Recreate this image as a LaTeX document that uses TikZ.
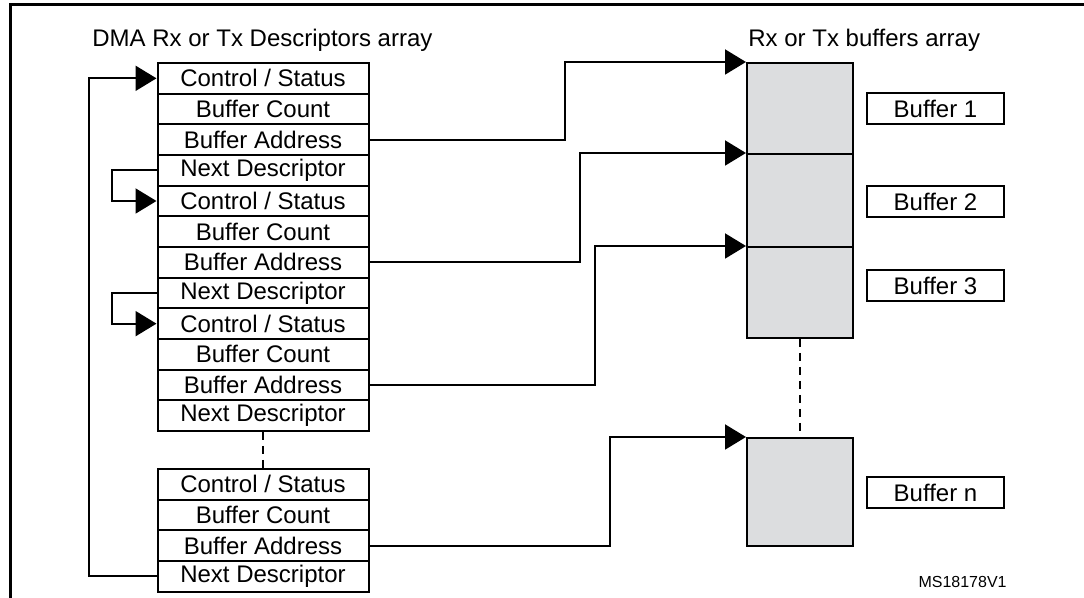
\documentclass[tikz,border=0pt]{standalone}
\usepackage{fontspec}
\setmainfont{Liberation Sans}
\usetikzlibrary{arrows.meta}
\definecolor{bufgray}{HTML}{DCDDDF}
\tikzset{
  row/.style={draw, line width=1pt, minimum width=105.5pt, minimum height=15.33pt, inner sep=0pt, font=\fontsize{12}{14}\selectfont},
  cell/.style={draw, line width=1pt, fill=bufgray, minimum width=53pt, inner sep=0pt},
  lbl/.style={draw, line width=1pt, minimum width=68.5pt, minimum height=15.5pt, inner sep=0pt, font=\fontsize{12}{14}\selectfont},
  ttl/.style={anchor=base west, inner sep=0pt, font=\fontsize{12}{14}\selectfont},
  conn/.style={line width=1pt, -{Triangle[length=10.5pt,width=12.5pt]}},
  dots/.style={line width=1pt, dash pattern=on 4pt off 3pt},
}
\begin{document}
\begin{tikzpicture}[x=0.5pt,y=-0.5pt]
\useasboundingbox (0,0) rectangle (1084,598);
% frame
\draw[line width=1.5pt] (10,598) -- (10,5) -- (1084,5);
% titles
\node[ttl] (t1) at (92,47) {DMA Rx or Tx Descriptors array};
\node[ttl] (t2) at (748,47) {Rx or Tx buffers array};
% descriptor rows block 1
\node[row] (d1)  at (263,78.33)  {Control / Status};
\node[row] (d2)  at (263,109.0)  {Buffer Count};
\node[row] (d3)  at (263,139.67) {Buffer Address};
\node[row] (d4)  at (263,170.33) {Next Descriptor};
\node[row] (d5)  at (263,201.0)  {Control / Status};
\node[row] (d6)  at (263,231.67) {Buffer Count};
\node[row] (d7)  at (263,262.33) {Buffer Address};
\node[row] (d8)  at (263,293.0)  {Next Descriptor};
\node[row] (d9)  at (263,323.67) {Control / Status};
\node[row] (d10) at (263,354.33) {Buffer Count};
\node[row] (d11) at (263,385.0)  {Buffer Address};
\node[row] (d12) at (263,415.67) {Next Descriptor};
% block 2
\node[row] (e1) at (263,484.33) {Control / Status};
\node[row] (e2) at (263,515.0)  {Buffer Count};
\node[row] (e3) at (263,545.67) {Buffer Address};
\node[row] (e4) at (263,576.33) {Next Descriptor};
% buffer cells
\node[cell, minimum height=45.5pt] (b1) at (800,108.5) {};
\node[cell, minimum height=46.5pt] (b2) at (800,200.5) {};
\node[cell, minimum height=45.5pt] (b3) at (800,292.5) {};
\node[cell, minimum height=54pt]   (bn) at (800,492) {};
% buffer labels
\node[lbl] (l1) at (935.5,109)   {Buffer 1};
\node[lbl] (l2) at (935.5,201.5) {Buffer 2};
\node[lbl] (l3) at (935.5,285.5) {Buffer 3};
\node[lbl] (ln) at (935.5,492.5) {Buffer n};
% reference code
\node[anchor=base east, inner sep=0pt, font=\fontsize{8}{9}\selectfont] (ms) at (1007,588) {MS18178V1};
% dashed continuations
\draw[dots] (d12.south) -- (e1.north);
\draw[dots] (b3.south) -- (bn.north);
% routing coordinates
\coordinate (v1) at (565,0);
\coordinate (v2) at (580,0);
\coordinate (v3) at (595,0);
\coordinate (v4) at (610,0);
\coordinate (vL) at (89,0);
\coordinate (vS) at (112,0);
% buffer address connectors
\draw[conn] (d3.east) -- (d3.east -| v1) |- (b1.north west);
\draw[conn] (d7.east) -- (d7.east -| v2) |- (b2.north west);
\draw[conn] (d11.east) -- (d11.east -| v3) |- (b3.north west);
\draw[conn] (e3.east) -- (e3.east -| v4) |- (bn.north west);
% next descriptor links
\draw[conn] (d4.west) -- (d4.west -| vS) |- (d5.west);
\draw[conn] (d8.west) -- (d8.west -| vS) |- (d9.west);
\draw[conn] (e4.west) -- (e4.west -| vL) |- (d1.west);
\end{tikzpicture}
\end{document}
